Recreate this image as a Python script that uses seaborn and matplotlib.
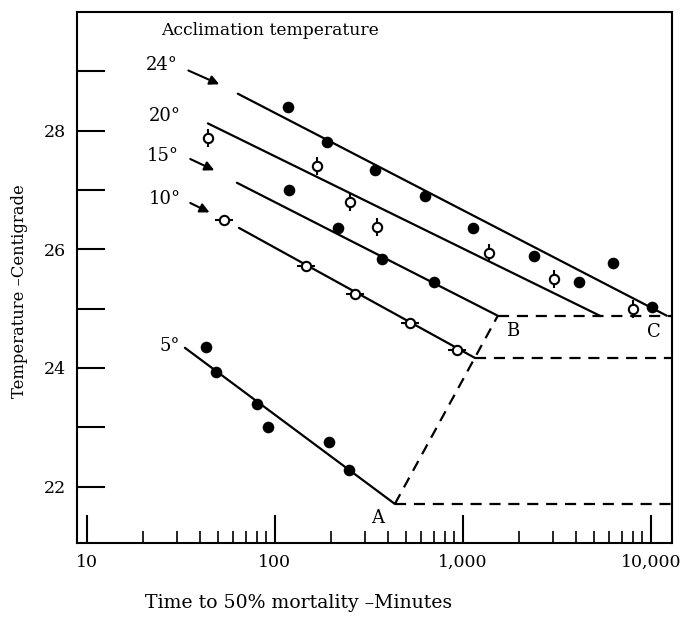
import numpy as np
import pandas as pd
import matplotlib.pyplot as plt
import seaborn as sns
from matplotlib.ticker import FixedLocator, NullFormatter

# observed points: time to 50% mortality (min) and lethal temperature (C)
t24 = [117, 189, 340, 628, 1130, 2390, 4140, 6280, 10100]
T24 = [28.39, 27.80, 27.34, 26.90, 26.36, 25.88, 25.45, 25.76, 25.02]

t20 = [44, 167, 250, 349, 1374, 3050, 8020]
T20 = [27.87, 27.41, 26.80, 26.38, 25.93, 25.50, 25.00]

t15 = [119, 216, 371, 701]
T15 = [26.99, 26.35, 25.84, 25.44]

t10 = [53.6, 146, 267, 522, 929]
T10 = [26.50, 25.71, 25.25, 24.75, 24.31]

t5 = [43, 48.5, 80, 92, 194, 248]
T5 = [24.36, 23.94, 23.40, 23.01, 22.76, 22.28]

# fitted lines (end points)
fit_t = {"24": [63.5, 12170], "20": [44, 5360], "15": [62.8, 1535],
         "10": [64.4, 1159], "5": [33.2, 435]}
fit_T = {"24": [28.62, 24.88], "20": [28.12, 24.88], "15": [27.12, 24.88],
         "10": [26.36, 24.17], "5": [24.34, 21.71]}

# break points A, B and the upper limits
pt_A = (435, 21.71)
pt_B = (1535, 24.88)
pt_10 = (1159, 24.17)
x_max = 12950

sns.set_style("ticks", {"text.color": "black", "axes.labelcolor": "black",
                        "axes.edgecolor": "black", "xtick.color": "black",
                        "ytick.color": "black"})
plt.rcParams['font.family'] = ['DejaVu Serif']

fig = plt.figure(figsize=(6.87, 6.2), dpi=100)
ax = fig.add_axes([0.112, 0.124, 0.866, 0.857])
ax.set_xscale("log")

lw = 1.6
for k in fit_t:
    sns.lineplot(x=fit_t[k], y=fit_T[k], ax=ax, color="black", lw=lw,
                 estimator=None, sort=False)

dash = (0, (5, 3.5))
ax.plot([pt_A[0], pt_B[0]], [pt_A[1], pt_B[1]], color="black", lw=lw, linestyle=dash)
ax.plot([pt_A[0], x_max], [pt_A[1], pt_A[1]], color="black", lw=lw, linestyle=dash)
ax.plot([pt_10[0], x_max], [pt_10[1], pt_10[1]], color="black", lw=lw, linestyle=dash)
ax.plot([pt_B[0], x_max], [pt_B[1], pt_B[1]], color="black", lw=lw, linestyle=dash)

# filled circles
for t, T in [(t24, T24), (t15, T15), (t5, T5)]:
    sns.scatterplot(x=t, y=T, ax=ax, color="black", s=70, marker="o",
                    edgecolor="black", linewidth=0, zorder=4)

# open circles with bars
sns.scatterplot(x=t20, y=T20, ax=ax, marker="|", s=170, color="black",
                linewidth=1.5, zorder=4)
sns.scatterplot(x=t20, y=T20, ax=ax, marker="o", s=45, facecolor="white",
                edgecolor="black", linewidth=1.5, zorder=5)
sns.scatterplot(x=t10, y=T10, ax=ax, marker="_", s=170, color="black",
                linewidth=1.5, zorder=4)
sns.scatterplot(x=t10, y=T10, ax=ax, marker="o", s=45, facecolor="white",
                edgecolor="black", linewidth=1.5, zorder=5)

fs = 13
ax.text(94, 29.69, "Acclimation temperature", fontsize=12.3, ha="center", va="center")
for lab, x, y in [("24°", 25.1, 29.11), ("20°", 26.0, 28.24), ("15°", 25.4, 27.57),
                  ("10°", 26.0, 26.84), ("5°", 27.6, 24.37)]:
    ax.text(x, y, lab, fontsize=fs, ha="center", va="center")
for (x0, y0), (x1, y1) in [((33.6, 29.03), (52.2, 28.76)),
                           ((34.4, 27.54), (49.1, 27.31)),
                           ((34.4, 26.80), (46.3, 26.60))]:
    ax.annotate("", xy=(x1, y1), xytext=(x0, y0),
                arrowprops=dict(arrowstyle="-|>", color="black", lw=1.5,
                                mutation_scale=14))
ax.text(353, 21.47, "A", fontsize=fs, ha="center", va="center")
ax.text(1845, 24.63, "B", fontsize=fs, ha="center", va="center")
ax.text(10380, 24.61, "C", fontsize=fs, ha="center", va="center")

ax.set_xlim(8.85, x_max)
ax.set_ylim(21.05, 30.0)

ax.set_xticks([10, 100, 1000, 10000])
ax.set_xticklabels(["10", "100", "1,000", "10,000"])
minor = [m * d for d in (10, 100, 1000) for m in range(2, 10)]
ax.xaxis.set_minor_locator(FixedLocator(minor))
ax.xaxis.set_minor_formatter(NullFormatter())
ax.set_yticks(range(22, 30))
ax.set_yticklabels([str(v) if v % 2 == 0 else "" for v in range(22, 30)])

ax.tick_params(axis="both", which="major", direction="in", width=1.5,
               length=20, labelsize=12.5, pad=8)
ax.tick_params(axis="x", which="minor", direction="in", width=1.2, length=9)
for s in ax.spines.values():
    s.set_linewidth(1.5)
    s.set_visible(True)

ax.set_xlabel("Time to 50% mortality \u2013Minutes", fontsize=13.6)
ax.xaxis.set_label_coords(0.373, -0.096)
ax.set_ylabel("Temperature \u2013Centigrade", fontsize=11.8)
ax.yaxis.set_label_coords(-0.082, 0.475)

fig.savefig("out.png", dpi=100)
